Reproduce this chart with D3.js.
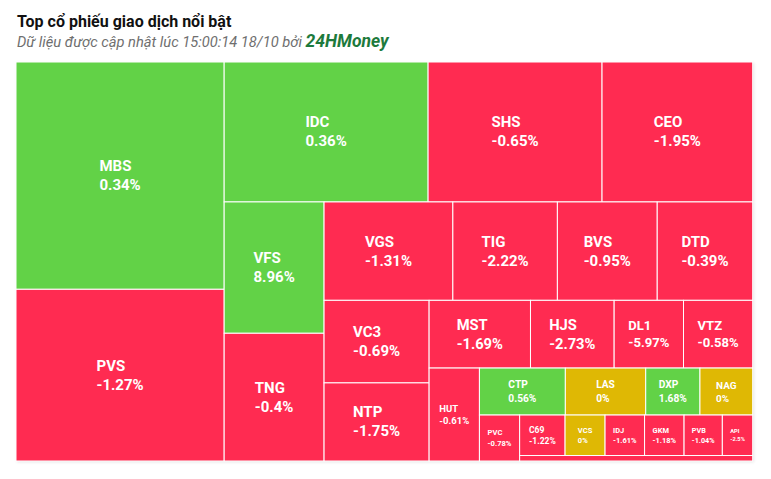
<!DOCTYPE html>
<html><head><meta charset="utf-8">
<script src="https://cdn.jsdelivr.net/npm/d3@7"></script>
<style>body{margin:0;background:#fff}</style>
</head><body><svg id="c" width="771" height="479"></svg>
<script>
// ---- data ----
const tickers = ["MBS","PVS","IDC","SHS","CEO","VFS","TNG","VGS","TIG","BVS","DTD","VC3","NTP","MST","HJS","DL1","VTZ","HUT","CTP","LAS","DXP","NAG","PVC","C69","VCS","IDJ","GKM","PVB","API","Khác"];
const changes = [0.34,-1.27,0.36,-0.65,-1.95,8.96,-0.4,-1.31,-2.22,-0.95,-0.39,-0.69,-1.75,-1.69,-2.73,-5.97,-0.58,-0.61,0.56,0,1.68,0,-0.78,-1.22,0,-1.61,-1.18,-1.04,-2.5,-0.5];
const tradeValues = [473.5,357.7,285.6,243.6,211.0,131.3,127.7,126.8,102.9,98.3,94.0,86.8,82.1,68.7,56.7,47.0,46.9,46.8,40.4,37.8,25.5,24.8,18.5,18.4,16.2,16.0,16.0,15.5,12.3,12.8];
const titleText = "Top cổ phiếu giao dịch nổi bật";
const subtitleText = "Dữ liệu được cập nhật lúc 15:00:14 18/10 bởi ";
const brandText = "24HMoney";

// ---- layout ----
const svg = d3.select("#c");
const plot = {x0: 16, y0: 62, x1: 752.7, y1: 461};
const GREEN = "#62d247", RED = "#ff2b51", YELLOW = "#dfb804";
const color = d3.scaleThreshold().domain([0, 1e-9]).range([RED, YELLOW, GREEN]);

// alternating-direction squarified tiling
function tileAlternating(parent, x0, y0, x1, y1) {
  const nodes = parent.children;
  const k = (x1 - x0) * (y1 - y0) / parent.value;
  let rx = x0, ry = y0, rw = x1 - x0, rh = y1 - y0, dir = 0, row = [];
  const ar = (a, b) => Math.max(a / b, b / a);
  function place() {
    const s = d3.sum(row, n => n.value * k);
    if (dir === 0) {
      const w = s / rh; let y = ry;
      for (const n of row) { const h = n.value * k / w; n.x0 = rx; n.x1 = rx + w; n.y0 = y; n.y1 = y + h; y += h; }
      rx += w; rw -= w;
    } else {
      const h = s / rw; let x = rx;
      for (const n of row) { const w = n.value * k / h; n.x0 = x; n.x1 = x + w; n.y0 = ry; n.y1 = ry + h; x += w; }
      ry += h; rh -= h;
    }
    dir = 1 - dir; row = [];
  }
  for (const n of nodes) {
    if (row.length) {
      const side = dir === 0 ? rh : rw;
      const s = d3.sum(row, m => m.value * k);
      const p = row[row.length - 1].value * k;
      const tOld = s / side, tNew = (s + n.value * k) / side;
      if (ar(tNew, p / tNew) > ar(tOld, p / tOld)) place();
    }
    row.push(n);
  }
  if (row.length) place();
}

const data = {children: tickers.map((t, i) => ({name: t, change: changes[i], value: tradeValues[i]}))};
const root = d3.hierarchy(data).sum(d => d.value || 0);
d3.treemap().tile(tileAlternating).size([plot.x1 - plot.x0, plot.y1 - plot.y0]).round(false)(root);

// header
svg.append("text").attr("x", 17).attr("y", 27)
  .style("font-family", "Roboto, sans-serif").style("font-weight", 700).style("font-size", "16px")
  .attr("fill", "#111").text(titleText);
const sub = svg.append("text").attr("x", 17).attr("y", 47)
  .style("font-family", "Roboto, sans-serif").style("font-style", "italic").style("font-size", "14.7px")
  .attr("fill", "#6f6f6f");
sub.append("tspan").text(subtitleText);
sub.append("tspan").style("font-weight", 700).style("font-size", "17.5px").attr("fill", "#1d7a3c").text(brandText);

// subtle card shadow
const defs = svg.append("defs");
const f = defs.append("filter").attr("id", "sh").attr("x", "-5%").attr("y", "-5%").attr("width", "110%").attr("height", "110%");
f.append("feDropShadow").attr("dx", 1).attr("dy", 1).attr("stdDeviation", 1.5).attr("flood-color", "#000").attr("flood-opacity", 0.12);

const g = svg.append("g").attr("transform", `translate(${plot.x0},${plot.y0})`);
g.append("rect").attr("x", root.x0).attr("y", root.y0)
  .attr("width", root.x1 - root.x0).attr("height", root.y1 - root.y0)
  .attr("fill", "#fff").attr("filter", "url(#sh)");
const leaves = root.leaves();
const cell = g.selectAll("g.cell").data(leaves).join("g").attr("class", "cell");
cell.append("rect")
  .attr("x", d => d.x0).attr("y", d => d.y0)
  .attr("width", d => d.x1 - d.x0).attr("height", d => d.y1 - d.y0)
  .attr("fill", d => color(d.data.change))
  .attr("stroke", "#fff").attr("stroke-width", 1);

cell.each(function(d) {
  const w = d.x1 - d.x0, h = d.y1 - d.y0;
  const fs = Math.min(15, w / 5.3, h / 4.6);
  if (fs < 4 || h < 12) return;
  const lh = fs * 1.2 + 1;
  const cx = (d.x0 + d.x1) / 2, cy = (d.y0 + d.y1) / 2;
  const sel = d3.select(this);
  const lines = [d.data.name, d.data.change + "%"];
  const texts = lines.map((s, i) => sel.append("text")
    .attr("y", cy + (i === 0 ? -lh / 2 : lh / 2))
    .attr("dominant-baseline", "central")
    .style("font-family", "Roboto, sans-serif").style("font-weight", 700)
    .style("font-size", fs + "px").attr("fill", "#fff").text(s));
  const bw = d3.max(texts, t => t.node().getComputedTextLength());
  texts.forEach(t => t.attr("x", cx - bw / 2));
});
</script>
</body></html>
